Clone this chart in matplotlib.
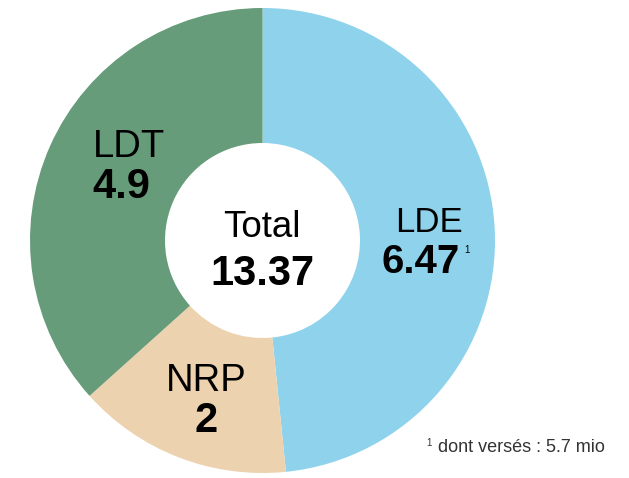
import matplotlib

matplotlib.use("Agg")
import matplotlib.pyplot as plt

# data
labels = ["LDE", "NRP", "LDT"]
values = [6.47, 2, 4.9]
value_text = ["6.47", "2", "4.9"]
total_text = "13.37"
colors = ["#8ED2EC", "#ECD2AE", "#669C7A"]
footnote = "dont versés : 5.7 mio"

W, H = 629, 478
plt.rcParams["font.family"] = ["Liberation Sans", "DejaVu Sans"]

fig = plt.figure(figsize=(W / 100, H / 100), dpi=100)
ax = fig.add_axes([0, 0, 1, 1])

cx, cy = 262.5, H - 240.5
r_out, r_in = 232.5, 97.5
ax.pie(values, colors=colors, startangle=90, counterclock=False,
       center=(cx, cy), radius=r_out,
       wedgeprops=dict(width=r_out - r_in, linewidth=0))
ax.set_xlim(0, W)
ax.set_ylim(0, H)
ax.set_aspect("equal")
ax.axis("off")


def px(x, y, s, size, weight="normal", ha="center", color="black"):
    ax.text(x, H - y, s, fontsize=size, fontweight=weight, ha=ha,
            va="baseline", color=color)


# segment labels (name on top, value in bold below)
px(428.5, 232, labels[0], 25)
px(420.5, 273, value_text[0], 29, "bold")
px(467, 253, "1", 7)

px(206.5, 391, labels[1], 27.5)
px(206.5, 432, value_text[1], 30, "bold")

px(128.5, 157, labels[2], 27.5)
px(121.5, 198, value_text[2], 30, "bold")

# centre
px(262, 237, "Total", 26.5)
px(262.5, 285, total_text, 30, "bold")

# footnote
px(426, 446, "1", 7, color="#333333", ha="left")
px(438, 452, footnote, 13, color="#333333", ha="left")

fig.savefig("out.png", dpi=100)
